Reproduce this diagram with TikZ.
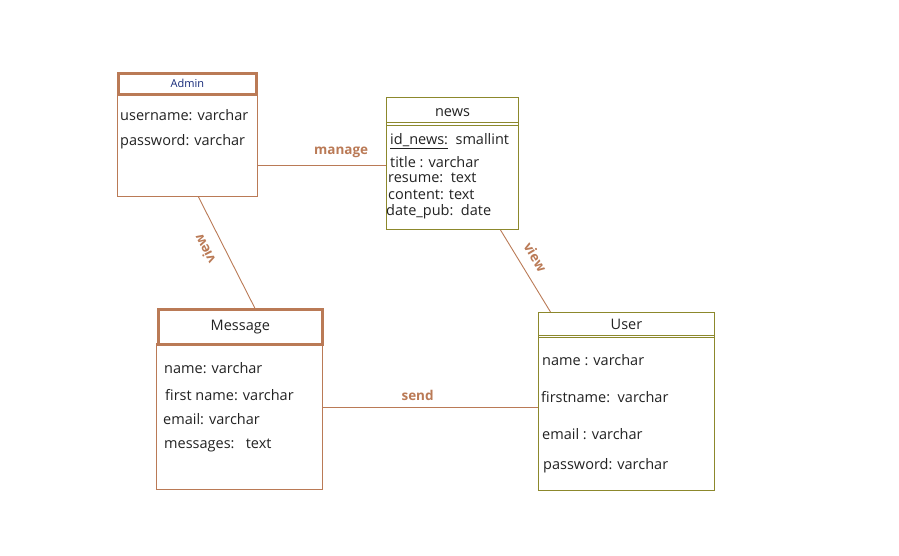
\documentclass[tikz,border=0pt]{standalone}
\usepackage{fontspec}
\setmainfont{Open Sans}
\usepackage{tikz}
\usetikzlibrary{positioning}
\definecolor{brownline}{RGB}{186,122,86}
\definecolor{oliveline}{RGB}{140,136,44}
\definecolor{attrtext}{RGB}{34,34,34}
\definecolor{adminblue}{RGB}{20,40,120}

\begin{document}
\begin{tikzpicture}[x=1pt, y=-1pt,
		box/.style = {draw, inner sep=0pt, anchor=north west},
		attr/.style = {anchor=west, inner sep=0pt, text=attrtext, font=\fontsize{14.5}{16}\selectfont},
		title/.style = {text=attrtext, font=\fontsize{14.5}{16}\selectfont},
		link/.style = {draw=brownline, line width=0.9pt},
		rel/.style = {text=brownline, font=\bfseries\fontsize{13.5}{16}\selectfont}]
				\useasboundingbox (0,0) rectangle (899,555);
				%Admin
				\node[box, brownline, line width=2.6pt, minimum width=138pt, minimum height=21pt] (adminhead) at (117,72) {};
				\node[text=adminblue, font=\fontsize{11}{13}\selectfont] (admintitle) at (adminhead.center) {Admin};
				\node[box, brownline, line width=1pt, minimum width=140pt, minimum height=101pt] (adminbody) at (117,95) {};
				\node[attr] (adminuser) at (120,115) {username: varchar};
				\node[attr] (adminpass) at (120,142) {password: varchar};
				%news
				\node[box, oliveline, line width=1pt, minimum width=132pt, minimum height=28pt] (newshead) at (386,97) {};
				\node[title] (newstitle) at ([yshift=-1.5pt]newshead.center) {news};
				\node[box, oliveline, line width=1pt, minimum width=132pt, minimum height=104pt] (newsbody) at (386,125) {};
				\draw[oliveline, line width=1pt] ([yshift=2.5pt]newsbody.north west) -- ([yshift=2.5pt]newsbody.north east);
				\node[attr] (newsid) at (390,141) {\underline{id\_news:}\ \ smallint};
				\node[attr] (newstitleattr) at (390,162) {title : varchar};
				\node[attr] (newsresume) at (388,178) {resume:\ \ text};
				\node[attr] (newscontent) at (388,195) {content: text};
				\node[attr] (newsdate) at (386,212) {date\_pub:\ \ date};
				%Message
				\node[box, brownline, line width=2.6pt, minimum width=164pt, minimum height=35pt] (msghead) at (157,308) {};
				\node[title] (msgtitle) at (msghead.center) {Message};
				\node[box, brownline, line width=1pt, minimum width=166pt, minimum height=146pt] (msgbody) at (156,343) {};
				\node[attr] (msgname) at (164,368) {name: varchar};
				\node[attr] (msgfirst) at (165,395) {first name: varchar};
				\node[attr] (msgemail) at (163,419) {email: varchar};
				\node[attr] (msgtext) at (164,445) {messages:\ \ \ text};
				%User
				\node[box, oliveline, line width=1pt, minimum width=176pt, minimum height=25pt] (userhead) at (538,312) {};
				\node[title] (usertitle) at ([yshift=1pt]userhead.center) {User};
				\node[box, oliveline, line width=1pt, minimum width=176pt, minimum height=153pt] (userbody) at (538,337) {};
				\draw[oliveline, line width=1pt] ([yshift=1.5pt]userbody.north west) -- ([yshift=1.5pt]userbody.north east);
				\node[attr] (username) at (542,360) {name : varchar};
				\node[attr] (userfirst) at (541,397) {firstname:\ \ varchar};
				\node[attr] (useremail) at (542,434) {email : varchar};
				\node[attr] (userpass) at (543,466) {password: varchar};
				%relations
				\draw[link] (adminbody.east |- 0,165) -- node[rel, above=3pt, pos=0.65] {manage} (newsbody.west |- 0,165);
				\draw[link] ([xshift=11pt]adminbody.south) -- node[rel, xshift=-22pt, yshift=3.5pt, rotate=117] {view} ([xshift=14.5pt]msghead.north);
				\draw[link] ([xshift=48pt]newsbody.south) -- node[rel, xshift=10pt, yshift=14pt, rotate=-59] {view} ([xshift=-76pt]userhead.north);
				\draw[link] (msgbody.east |- 0,407) -- node[rel, above=3pt, pos=0.44] {send} (userbody.west |- 0,407);
			\end{tikzpicture}
\end{document}
